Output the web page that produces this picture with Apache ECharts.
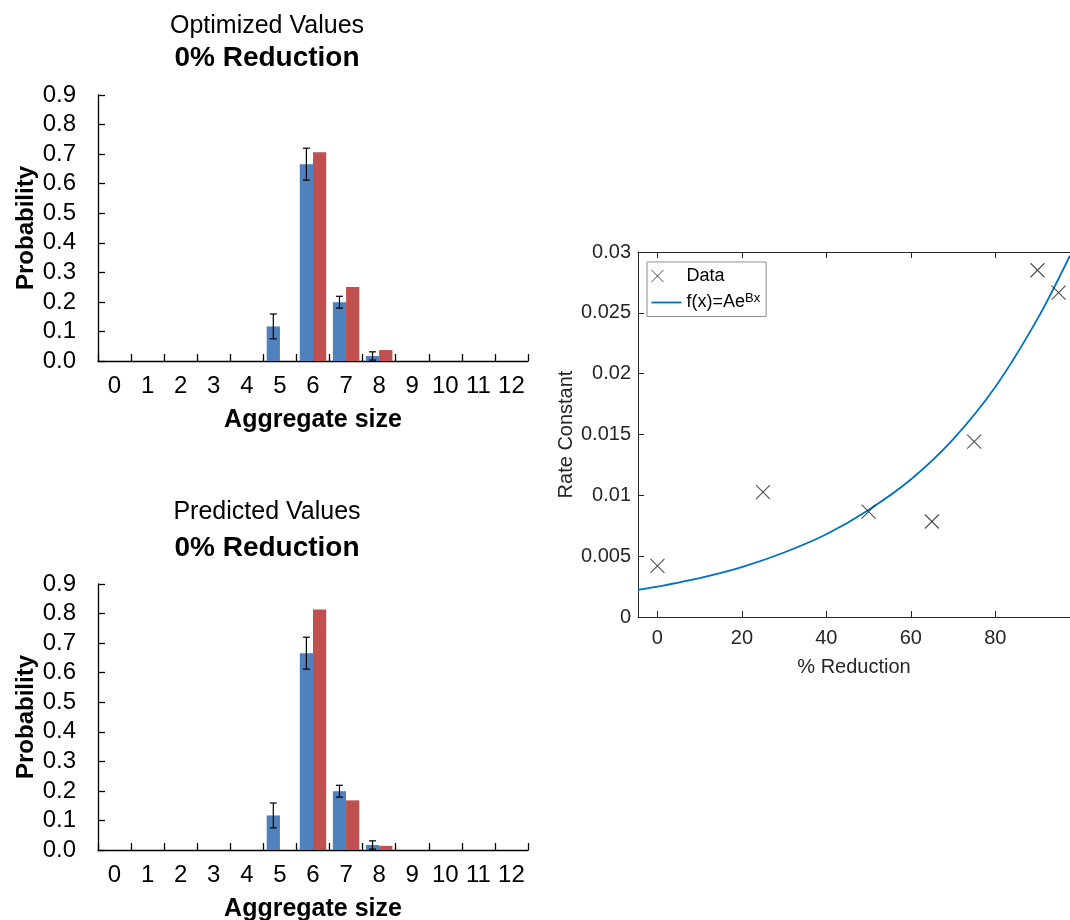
<!DOCTYPE html>
<html>
<head>
<meta charset="utf-8">
<script src="https://cdn.jsdelivr.net/npm/echarts@6/dist/echarts.min.js"></script>
<style>
html,body{margin:0;padding:0;background:#fff;}
#main{width:1070px;height:920px;}
</style>
</head>
<body>
<div id="main"></div>
<script>
// ---- Data ----
const sizeCategories = ['0','1','2','3','4','5','6','7','8','9','10','11','12'];
const probTicks = [0,0.1,0.2,0.3,0.4,0.5,0.6,0.7,0.8,0.9];
const observedProb = [0,0,0,0,0,0.117,0.666,0.199,0.017,0,0,0,0];
const observedErr  = [0,0,0,0,0,0.042,0.054,0.020,0.014,0,0,0,0];
const optimizedProb = [0,0,0,0,0,0,0.706,0.250,0.037,0,0,0,0];
const predictedProb = [0,0,0,0,0,0,0.814,0.168,0.014,0,0,0,0];

const reductionX = [0,25,50,65,75,90,95];
const rateConstant = [0.00421,0.01026,0.00867,0.00785,0.01441,0.0285,0.02667];
const fitX = [-4.6,0,10,20,30,40,50,60,70,80,90,97.7];
const fitY = [0.00224,0.0025,0.0032,0.0041,0.0053,0.0068,0.0088,0.0113,0.0146,0.0189,0.0245,0.0297];
const reductionTicks = [0,20,40,60,80];

// ---- Chart ----
const chart = echarts.init(document.getElementById('main'));
const FONT = '"Liberation Sans", Arial, Helvetica, sans-serif';
const BLUE = '#4F81BD', RED = '#C0504D';
const DARK = '#262626';

function barXAxis(gi){
  return {
    type:'category', gridIndex:gi, data:sizeCategories,
    name:'Aggregate size', nameLocation:'middle', nameGap:47,
    nameTextStyle:{fontFamily:FONT,fontSize:25,fontWeight:'bold',color:'#000'},
    axisLine:{show:true,lineStyle:{color:'#000',width:1.3}},
    axisTick:{show:true,inside:true,length:7,interval:0,lineStyle:{color:'#000',width:1.3}},
    axisLabel:{interval:0,margin:13,fontFamily:FONT,fontSize:24,color:'#000'},
    splitLine:{show:false}
  };
}
function barYAxis(gi){
  return {
    type:'value', gridIndex:gi, min:0, max:0.9, interval:0.1,
    name:'Probability', nameLocation:'middle', nameGap:60, nameRotate:90,
    nameTextStyle:{fontFamily:FONT,fontSize:24,fontWeight:'bold',color:'#000'},
    axisLine:{show:true,lineStyle:{color:'#000',width:1.3}},
    axisTick:{show:true,inside:true,length:7,lineStyle:{color:'#000',width:1.3}},
    axisLabel:{margin:22,fontFamily:FONT,fontSize:24,color:'#000',formatter:v=>v.toFixed(1)},
    splitLine:{show:false}
  };
}
function errSeries(xi, yi){
  return {
    type:'custom', xAxisIndex:xi, yAxisIndex:yi, z:10,
    data: observedProb.map((v,i)=>[i, v, observedErr[i]]),
    encode:{x:0,y:1},
    renderItem:function(params, api){
      const e = api.value(2);
      if(!e) return null;
      const idx = api.value(0), v = api.value(1);
      const bw = api.size([1,0])[0];
      const c = api.coord([idx, v]);
      const x = c[0] - bw*0.2;
      const yt = api.coord([idx, v+e])[1];
      const yb = api.coord([idx, Math.max(v-e,0)])[1];
      const hw = 3.5;
      const st = {stroke:'#000', lineWidth:1.2};
      return {type:'group', children:[
        {type:'line', shape:{x1:x,y1:yt,x2:x,y2:yb}, style:st},
        {type:'line', shape:{x1:x-hw,y1:yt,x2:x+hw,y2:yt}, style:st},
        {type:'line', shape:{x1:x-hw,y1:yb,x2:x+hw,y2:yb}, style:st}
      ]};
    }
  };
}

const option = {
  animation:false,
  backgroundColor:'#fff',
  textStyle:{fontFamily:FONT},
  graphic:[
    {type:'text', x:267, y:26, style:{text:'Optimized Values', font:'25px '+FONT, fill:'#000', align:'center', verticalAlign:'middle'}},
    {type:'text', x:267, y:58, style:{text:'0% Reduction', font:'bold 28px '+FONT, fill:'#000', align:'center', verticalAlign:'middle'}},
    {type:'text', x:267, y:512, style:{text:'Predicted Values', font:'25px '+FONT, fill:'#000', align:'center', verticalAlign:'middle'}},
    {type:'text', x:267, y:548, style:{text:'0% Reduction', font:'bold 28px '+FONT, fill:'#000', align:'center', verticalAlign:'middle'}}
  ],
  grid:[
    {left:98, top:95, width:430, height:266, outerBoundsMode:'none'},
    {left:98, top:584, width:430, height:266, outerBoundsMode:'none'},
    {left:638, top:252, width:432, height:365, outerBoundsMode:'none'}
  ],
  xAxis:[
    barXAxis(0),
    barXAxis(1),
    {
      type:'value', gridIndex:2, min:-4.6, max:97.7,
      name:'% Reduction', nameLocation:'middle', nameGap:40,
      nameTextStyle:{fontFamily:FONT,fontSize:20,color:DARK},
      axisLine:{show:true,onZero:false,lineStyle:{color:DARK,width:1}},
      axisTick:{show:true,inside:true,length:6,customValues:reductionTicks,lineStyle:{color:DARK}},
      axisLabel:{margin:11,fontFamily:FONT,fontSize:20,color:DARK,customValues:reductionTicks},
      splitLine:{show:false}
    },
    {
      type:'value', gridIndex:2, position:'top', min:-4.6, max:97.7,
      axisLine:{show:true,onZero:false,lineStyle:{color:DARK,width:1}},
      axisTick:{show:true,inside:true,length:6,customValues:reductionTicks,lineStyle:{color:DARK}},
      axisLabel:{show:false,customValues:reductionTicks},
      splitLine:{show:false}
    }
  ],
  yAxis:[
    barYAxis(0),
    barYAxis(1),
    {
      type:'value', gridIndex:2, min:0, max:0.03, interval:0.005,
      name:'Rate Constant', nameLocation:'middle', nameGap:62, nameRotate:90,
      nameTextStyle:{fontFamily:FONT,fontSize:20,color:DARK},
      axisLine:{show:true,onZero:false,lineStyle:{color:DARK,width:1}},
      axisTick:{show:true,inside:true,length:6,lineStyle:{color:DARK}},
      axisLabel:{margin:7,fontFamily:FONT,fontSize:20,color:DARK},
      splitLine:{show:false}
    }
  ],
  legend:{
    show:true,
    orient:'vertical', left:647, top:262,
    padding:[5,6,5,4], itemGap:7, itemWidth:30, itemHeight:14,
    borderColor:'#8c8c8c', borderWidth:1, backgroundColor:'#fff',
    textStyle:{fontFamily:FONT,fontSize:18,color:'#000',
      rich:{n:{fontFamily:FONT,fontSize:18,color:'#000'},s:{fontFamily:FONT,fontSize:13,color:'#000',verticalAlign:'top',padding:[0,0,8,0]}}},
    formatter:function(name){
      if(name==='Data') return name;
      return '{n|f(x)=Ae}{s|Bx}';
    },
    data:[
      {name:'Data', icon:'path://M0,0M30,14M0,1L12,13M12,1L0,13', itemStyle:{color:'transparent',borderColor:'#222',borderWidth:1}},
      {name:'f(x)=Ae^Bx', icon:'path://M0,0M30,14M0,6.1L30,6.1L30,7.9L0,7.9Z', itemStyle:{color:'#0072BD',borderWidth:0}}
    ]
  },
  series:[
    {type:'bar', xAxisIndex:0, yAxisIndex:0, data:observedProb, barWidth:'40%', barGap:'0%', itemStyle:{color:BLUE}},
    {type:'bar', xAxisIndex:0, yAxisIndex:0, data:optimizedProb, barWidth:'40%', barGap:'0%', itemStyle:{color:RED}},
    errSeries(0,0),
    {type:'bar', xAxisIndex:1, yAxisIndex:1, data:observedProb, barWidth:'40%', barGap:'0%', itemStyle:{color:BLUE}},
    {type:'bar', xAxisIndex:1, yAxisIndex:1, data:predictedProb, barWidth:'40%', barGap:'0%', itemStyle:{color:RED}},
    errSeries(1,1),
    {
      name:'Data', type:'scatter', xAxisIndex:2, yAxisIndex:2,
      data: reductionX.map((x,i)=>[x, rateConstant[i]]),
      symbol:'path://M0,0L10,10M10,0L0,10', symbolSize:14,
      itemStyle:{color:'transparent', borderColor:'#222', borderWidth:1.1}, z:5
    },
    {
      name:'f(x)=Ae^Bx', type:'line', xAxisIndex:2, yAxisIndex:2,
      data: fitX.map((x,i)=>[x, fitY[i]]),
      smooth:0.3, showSymbol:false, symbol:'none',
      lineStyle:{color:'#0072BD', width:1.8}, itemStyle:{color:'#0072BD'}, z:4
    }
  ]
};
chart.setOption(option);
</script>
</body>
</html>
